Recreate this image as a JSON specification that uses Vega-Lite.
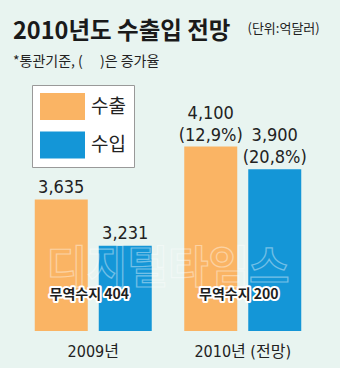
{
  "$schema": "https://vega.github.io/schema/vega-lite/v6.json",
  "autosize": {"type": "none"},
  "width": 299,
  "height": 261,
  "padding": {"left": 18.5, "right": 22.5, "top": 70, "bottom": 37},
  "background": "#e8f4f0",
  "config": {"view": {"stroke": null}, "font": "Noto Sans CJK KR"},
  "title": {
    "text": "2010년도 수출입 전망",
    "subtitle": "*통관기준, (\u3000\u00a0)은 증가율",
    "anchor": "start",
    "frame": "group",
    "dx": -5.5,
    "offset": -47,
    "font": "Noto Sans CJK KR",
    "fontSize": 23.5,
    "fontWeight": "bold",
    "color": "#1a1a1a",
    "subtitleFont": "Noto Sans CJK KR",
    "subtitleFontSize": 14,
    "subtitleColor": "#222222",
    "subtitlePadding": 12
  },
  "data": {
    "values": [
      {"year": "2009년", "type": "수출", "value": 3635, "label": "3,635", "growth": null},
      {"year": "2009년", "type": "수입", "value": 3231, "label": "3,231", "growth": null},
      {"year": "2010년 (전망)", "type": "수출", "value": 4100, "label": "4,100", "growth": "(12,9%)"},
      {"year": "2010년 (전망)", "type": "수입", "value": 3900, "label": "3,900", "growth": "(20,8%)"}
    ]
  },
  "layer": [
    {
      "mark": {"type": "bar"},
      "encoding": {
        "x": {
          "field": "year", "type": "nominal", "sort": null,
          "scale": {"paddingInner": 0, "paddingOuter": 0},
          "axis": {
            "title": null, "domain": false, "ticks": false, "labelAngle": 0,
            "labelFontSize": 16, "labelColor": "#222222", "labelPadding": 12,
            "labelFont": "Liberation Sans Narrow, DejaVu Sans Condensed, Noto Sans CJK KR"
          }
        },
        "xOffset": {
          "field": "type", "type": "nominal", "sort": ["수출", "수입"],
          "scale": {"paddingInner": 0.172, "paddingOuter": 0.254}
        },
        "y": {
          "field": "value", "type": "quantitative",
          "scale": {"domain": [2483, 4771], "zero": false, "nice": false},
          "axis": {
            "orient": "right", "domain": false, "ticks": false, "labels": false, "grid": false,
            "title": "(단위:억달러)", "titleAngle": 0, "titleAlign": "left", "titleBaseline": "alphabetic",
            "titleX": -70.5, "titleY": -38, "titleFontSize": 13, "titleFontWeight": "normal",
            "titleColor": "#222222", "titleFont": "Noto Sans CJK KR"
          }
        },
        "y2": {"datum": 2483},
        "color": {
          "field": "type", "type": "nominal",
          "scale": {"domain": ["수출", "수입"], "range": ["#fab464", "#1496d7"]},
          "legend": {
            "title": null, "orient": "none", "legendX": 13.5, "legendY": 15,
            "symbolType": "M-1,-1H2.3333V1H-1Z", "symbolSize": 729, "symbolStrokeWidth": 0,
            "symbolOpacity": 1,
            "labelFontSize": 19, "labelOffset": 24, "labelColor": "#222222",
            "rowPadding": 11.5, "padding": 8,
            "fillColor": "#ffffff", "strokeColor": "#999999"
          }
        }
      }
    },
    {
      "transform": [{"filter": "datum.growth == null"}],
      "mark": {
        "type": "text", "baseline": "alphabetic", "dy": -7,
        "fontSize": 18, "color": "#222222",
        "font": "Liberation Sans Narrow, DejaVu Sans Condensed, sans-serif"
      },
      "encoding": {
        "x": {"field": "year", "type": "nominal", "sort": null},
        "xOffset": {"field": "type", "type": "nominal", "sort": ["수출", "수입"]},
        "y": {"field": "value", "type": "quantitative"},
        "text": {"field": "label"}
      }
    },
    {
      "transform": [{"filter": "datum.growth != null"}],
      "mark": {
        "type": "text", "baseline": "alphabetic", "dy": -28,
        "fontSize": 18, "color": "#222222",
        "font": "Liberation Sans Narrow, DejaVu Sans Condensed, sans-serif"
      },
      "encoding": {
        "x": {"field": "year", "type": "nominal", "sort": null},
        "xOffset": {"field": "type", "type": "nominal", "sort": ["수출", "수입"]},
        "y": {"field": "value", "type": "quantitative"},
        "text": {"field": "label"}
      }
    },
    {
      "transform": [{"filter": "datum.growth != null"}],
      "mark": {
        "type": "text", "baseline": "alphabetic", "dy": -6,
        "fontSize": 18, "color": "#222222",
        "font": "Liberation Sans Narrow, DejaVu Sans Condensed, sans-serif"
      },
      "encoding": {
        "x": {"field": "year", "type": "nominal", "sort": null},
        "xOffset": {"field": "type", "type": "nominal", "sort": ["수출", "수입"]},
        "y": {"field": "value", "type": "quantitative"},
        "text": {"field": "growth"}
      }
    },
    {
      "data": {"values": [{"mark": "디지털타임스"}]},
      "mark": {
        "type": "text", "x": {"expr": "width / 2"}, "fontSize": 44, "fontWeight": "bold",
        "fill": null, "stroke": "#ffffff", "strokeWidth": 1.2, "opacity": 0.4,
        "font": "Noto Sans CJK KR"
      },
      "encoding": {
        "y": {"datum": 3020, "type": "quantitative"},
        "text": {"field": "mark"}
      }
    },
    {
      "data": {"values": [
        {"year": "2009년", "balance": "무역수지 404"},
        {"year": "2010년 (전망)", "balance": "무역수지 200"}
      ]},
      "layer": [
        {
          "mark": {
            "type": "text", "dx": -4, "fontSize": 14, "fontWeight": "bold",
            "stroke": "#ffffff", "strokeWidth": 4, "strokeJoin": "round", "fill": "#ffffff",
            "font": "Noto Sans CJK KR"
          },
          "encoding": {
            "x": {"field": "year", "type": "nominal", "sort": null},
            "y": {"datum": 2800, "type": "quantitative"},
            "text": {"field": "balance"}
          }
        },
        {
          "mark": {
            "type": "text", "dx": -4, "fontSize": 14, "fontWeight": "bold",
            "fill": "#1e1e1e", "font": "Noto Sans CJK KR"
          },
          "encoding": {
            "x": {"field": "year", "type": "nominal", "sort": null},
            "y": {"datum": 2800, "type": "quantitative"},
            "text": {"field": "balance"}
          }
        }
      ]
    }
  ]
}
